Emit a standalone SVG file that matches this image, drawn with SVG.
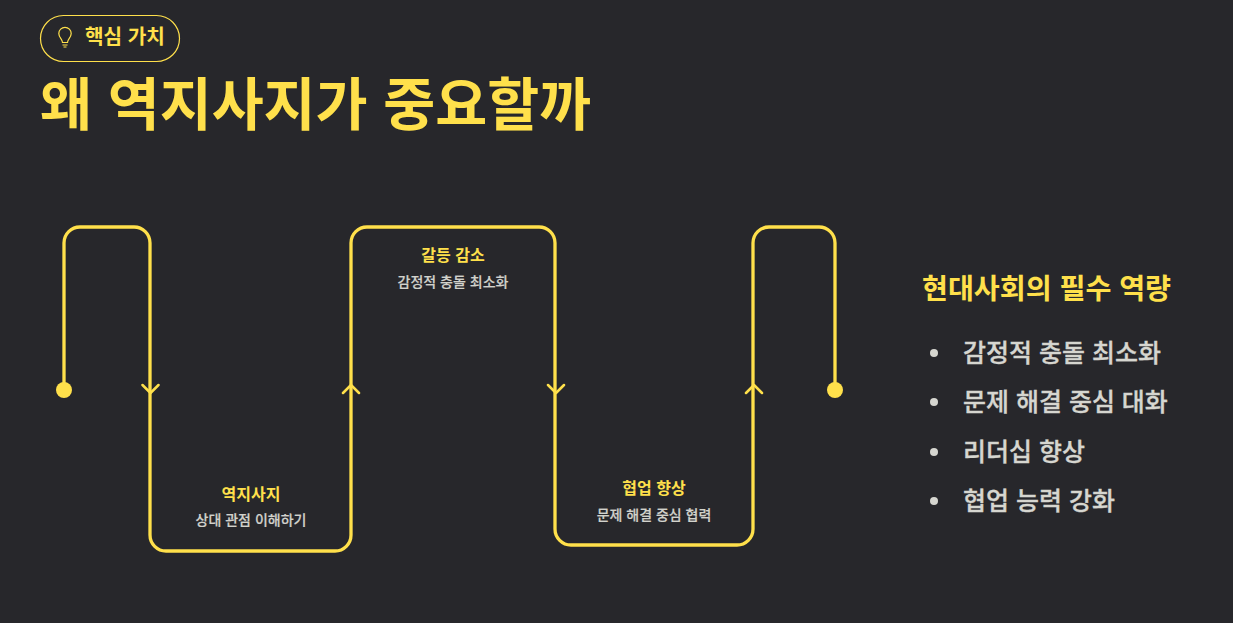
<svg xmlns="http://www.w3.org/2000/svg" width="1233" height="623" viewBox="0 0 1233 623">
<style>
text{font-family:"Liberation Sans","Noto Sans CJK KR",sans-serif}
.l{fill:none;stroke:#FFE04B;stroke-width:3.300;stroke-linecap:round;stroke-linejoin:round}
.a{fill:none;stroke:#FFE04B;stroke-width:2.500;stroke-linecap:round;stroke-linejoin:round}
.y{fill:#FFE04B;font-weight:700}
.t{font-size:16px;text-anchor:middle}
.s{fill:#d2d2cc;stroke:#d2d2cc;stroke-width:.2px;font-size:14px;text-anchor:middle;font-weight:500}
.b{fill:#d6d6d0;stroke:#d6d6d0;stroke-width:.35px;font-size:25px;font-weight:500}
.d{fill:#d6d6d0}
</style>
<rect width="1233" height="623" fill="#27272B"/>
<g id="badge">
<rect x="40.500" y="15.500" width="139" height="46" rx="23" fill="none" stroke="#FFE04B" stroke-width="1.200"/>
<path d="M62.500 42.500C62.500 39 58.800 37.500 58.800 33.500A6.200 6.200 0 0 1 71.200 33.500C71.200 37.500 67.500 39 67.500 42.500ZM62.500 45H67.500M63.500 47H66.500" fill="none" stroke="#FFE04B" stroke-width="1.200"/>
<text class="y" x="85" y="44" font-size="20.200">핵심 가치</text>
</g>
<text class="y" id="title" x="40" y="125" font-size="56.500">왜 역지사지가 중요할까</text>
<g id="connectors">
<path class="l" d="M64 390V243A16 16 0 0 1 80 227H134A16 16 0 0 1 150 243V535A16 16 0 0 0 166 551H335A16 16 0 0 0 351 535V243A16 16 0 0 1 367 227H539A16 16 0 0 1 555 243V529A16 16 0 0 0 571 545H737A16 16 0 0 0 753 529V243A16 16 0 0 1 769 227H819A16 16 0 0 1 835 243V390"/>
<path class="a" d="M142.500 385L150.500 393L158.500 385M343 393L351 385L359 393M548 385L556 393L564 385M746 393L754 385L762 393"/>
<circle cx="64" cy="390" r="8" fill="#FFE04B"/>
<circle cx="835" cy="390" r="8" fill="#FFE04B"/>
</g>
<g id="node1"><text class="y t" x="251" y="500">역지사지</text><text class="s" x="251" y="525">상대 관점 이해하기</text></g>
<g id="node2"><text class="y t" x="453" y="261">갈등 감소</text><text class="s" x="453" y="287">감정적 충돌 최소화</text></g>
<g id="node3"><text class="y t" x="654" y="494">협업 향상</text><text class="s" x="654" y="520">문제 해결 중심 협력</text></g>
<g id="panel">
<text class="y" x="922" y="299" font-size="28.200">현대사회의 필수 역량</text>
<circle class="d" cx="934" cy="353" r="4"/><text class="b" x="963" y="362">감정적 충돌 최소화</text>
<circle class="d" cx="934" cy="402" r="4"/><text class="b" x="963" y="411">문제 해결 중심 대화</text>
<circle class="d" cx="934" cy="452" r="4"/><text class="b" x="963" y="461">리더십 향상</text>
<circle class="d" cx="934" cy="501" r="4"/><text class="b" x="963" y="510">협업 능력 강화</text>
</g>
</svg>
